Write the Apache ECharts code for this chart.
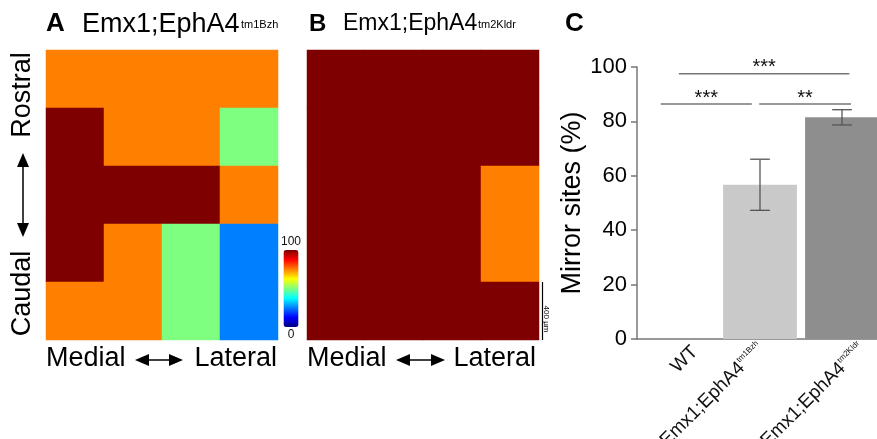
<!DOCTYPE html>
<html>
<head>
<meta charset="utf-8">
<script src="https://cdn.jsdelivr.net/npm/echarts@6/dist/echarts.min.js"></script>
<style>
  html, body { margin: 0; padding: 0; background: #fff; }
  #main { width: 877px; height: 439px; }
</style>
</head>
<body>
<div id="main"></div>
<script>
// heat maps: % of animals with a mirror site, rows rostral -> caudal, cols medial -> lateral
const heatCols = ['1', '2', '3', '4']
const heatRows = ['1', '2', '3', '4', '5']
const heatA = [
  [75, 75, 75, 75],
  [100, 75, 75, 50],
  [100, 100, 100, 75],
  [100, 75, 50, 25],
  [75, 75, 50, 25],
]
const heatB = [
  [100, 100, 100, 100],
  [100, 100, 100, 100],
  [100, 100, 100, 75],
  [100, 100, 100, 75],
  [100, 100, 100, 100],
]
// jet colormap
const JET = ['#00007F', '#0000FF', '#007FFF', '#00FFFF', '#7FFF7F', '#FFFF00', '#FF7F00', '#FF0000', '#7F0000']

// bar chart C
const groupNames = ['WT', 'Emx1;EphA4', 'Emx1;EphA4']
const groupSups = ['', 'tm1Bzh', 'tm2Kldr']
const barValues = [0, 56.7, 81.5]
const barErrors = [0, 9.4, 2.8]
const barColors = ['#ffffff', '#c9c9c9', '#8e8e8e']
// significance brackets (positions in category units)
const sigFrom = [0.01, -0.21, 0.99]
const sigTo = [2.09, 0.9, 2.11]
const sigY = [97.5, 86.4, 86.4]
const sigText = ['***', '***', '**']

// hand placement of the rotated group labels (px from the tick)
const labelDx = [17, 1, 20]
const labelDy = [10, 7, 7]

const FONT = '"Liberation Sans", Arial, Helvetica, sans-serif'
const categories = groupNames.map((n, i) => n + ' ' + groupSups[i])
const toCells = (m) => m.flatMap((row, r) => row.map((v, c) => [c, r, v]))

function arrow(x1, y1, x2, y2) {
  const dx = x2 - x1, dy = y2 - y1
  const len = Math.sqrt(dx * dx + dy * dy)
  const ux = dx / len, uy = dy / len
  const hl = 14, hw = 6
  const head = (px, py, sx, sy) => ({
    type: 'polygon',
    shape: { points: [[px, py], [px - sx * hl - sy * hw, py - sy * hl + sx * hw], [px - sx * hl + sy * hw, py - sy * hl - sx * hw]] },
    style: { fill: '#000' },
  })
  return {
    type: 'group',
    children: [
      { type: 'line', shape: { x1: x1 + ux * 6, y1: y1 + uy * 6, x2: x2 - ux * 6, y2: y2 - uy * 6 }, style: { stroke: '#000', lineWidth: 1.5 } },
      head(x2, y2, ux, uy),
      head(x1, y1, -ux, -uy),
    ],
  }
}

function txt(x, y, text, size, opts) {
  return Object.assign({
    type: 'text', x: x, y: y,
    style: Object.assign({ text: text, fontSize: size, fontFamily: FONT, fill: '#000', verticalAlign: 'top' }, (opts && opts.style) || {}),
  }, (opts && opts.el) || {})
}

const chart = echarts.init(document.getElementById('main'))

const hiddenCat = (data, idx, inverse) => ({
  type: 'category', data: data, gridIndex: idx, inverse: !!inverse,
  axisLine: { show: false }, axisTick: { show: false }, axisLabel: { show: false }, splitLine: { show: false },
})

chart.setOption({
  animation: false,
  grid: [
    { left: 46, top: 50, width: 232, height: 290, outerBoundsMode: 'none' },
    { left: 307, top: 50, width: 232, height: 290, outerBoundsMode: 'none' },
    { left: 637, top: 67, width: 246, height: 272, outerBoundsMode: 'none' },
  ],
  xAxis: [
    hiddenCat(heatCols, 0),
    hiddenCat(heatCols, 1),
    {
      type: 'category', gridIndex: 2, data: categories,
      axisLine: { lineStyle: { color: '#777', width: 1.5 } },
      axisTick: { show: false },
      axisLabel: { show: false },
    },
  ],
  yAxis: [
    hiddenCat(heatRows, 0, true),
    hiddenCat(heatRows, 1, true),
    {
      type: 'value', gridIndex: 2, min: 0, max: 100, interval: 20,
      name: 'Mirror sites (%)', nameLocation: 'middle', nameGap: 45,
      nameTextStyle: { fontSize: 27, fontFamily: FONT, color: '#000' },
      axisLine: { show: true, lineStyle: { color: '#777', width: 1.5 } },
      axisTick: { show: true, length: 6, lineStyle: { color: '#777', width: 1.5 } },
      axisLabel: { fontSize: 22, fontFamily: FONT, color: '#000', margin: 10 },
      splitLine: { show: false },
    },
  ],
  visualMap: {
    type: 'continuous', min: 0, max: 100, seriesIndex: [0, 1],
    calculable: false, orient: 'vertical',
    left: 281, top: 236, itemWidth: 15, itemHeight: 77, padding: 0,
    text: ['100', '0'], textGap: 2,
    textStyle: { fontSize: 12, fontFamily: FONT, color: '#111' },
    inRange: { color: JET },
  },
  series: [
    { type: 'heatmap', xAxisIndex: 0, yAxisIndex: 0, data: toCells(heatA), emphasis: { disabled: true } },
    { type: 'heatmap', xAxisIndex: 1, yAxisIndex: 1, data: toCells(heatB), emphasis: { disabled: true } },
    {
      // 400 um scale bar = one row of panel B
      type: 'custom', xAxisIndex: 1, yAxisIndex: 1, clip: false, silent: true,
      data: [[heatCols.length - 1, heatRows.length - 1]],
      renderItem: function (params, api) {
        const p = api.coord([api.value(0), api.value(1)])
        const s = api.size([1, 1])
        const x = p[0] + s[0] / 2 + 3.5
        return {
          type: 'group',
          children: [
            { type: 'line', shape: { x1: x, y1: p[1] - s[1] / 2, x2: x, y2: p[1] + s[1] / 2 }, style: { stroke: '#000', lineWidth: 1.2 } },
            { type: 'text', x: x + 4, y: p[1] + 8, rotation: -Math.PI / 2, style: { text: '400 µm', fontSize: 8, fontFamily: FONT, fill: '#000', align: 'center', verticalAlign: 'middle' } },
          ],
        }
      },
    },
    {
      type: 'bar', xAxisIndex: 2, yAxisIndex: 2, barCategoryGap: '10%',
      data: barValues.map((v, i) => ({ value: v, itemStyle: { color: barColors[i] } })),
    },
    {
      type: 'custom', xAxisIndex: 2, yAxisIndex: 2, clip: false, silent: true, z: 5,
      data: barValues.map((v, i) => [i, v, barErrors[i]]),
      renderItem: function (params, api) {
        const e = api.value(2)
        if (!e) return
        const i = api.value(0), m = api.value(1)
        const hi = api.coord([i, m + e]), lo = api.coord([i, m - e])
        const hw = api.size([1, 0])[0] * 0.12
        const st = { stroke: '#555', lineWidth: 1.3 }
        return {
          type: 'group',
          children: [
            { type: 'line', shape: { x1: hi[0], y1: hi[1], x2: lo[0], y2: lo[1] }, style: st },
            { type: 'line', shape: { x1: hi[0] - hw, y1: hi[1], x2: hi[0] + hw, y2: hi[1] }, style: st },
            { type: 'line', shape: { x1: lo[0] - hw, y1: lo[1], x2: lo[0] + hw, y2: lo[1] }, style: st },
          ],
        }
      },
    },
    {
      type: 'custom', xAxisIndex: 2, yAxisIndex: 2, clip: false, silent: true, z: 5,
      data: sigY.map((y) => [0, y]),
      renderItem: function (params, api) {
        const k = params.dataIndex
        const base = api.coord([0, api.value(1)])
        const bw = api.size([1, 0])[0]
        const x1 = base[0] + sigFrom[k] * bw, x2 = base[0] + sigTo[k] * bw
        return {
          type: 'group',
          children: [
            { type: 'line', shape: { x1: x1, y1: base[1], x2: x2, y2: base[1] }, style: { stroke: '#777', lineWidth: 1.4 } },
            { type: 'text', x: (x1 + x2) / 2, y: base[1] - 6, style: { text: sigText[k], fontSize: 20, fontFamily: FONT, fill: '#111', align: 'center', verticalAlign: 'middle' } },
          ],
        }
      },
    },
    {
      // rotated group labels under the bars
      type: 'custom', xAxisIndex: 2, yAxisIndex: 2, clip: false, silent: true, z: 5,
      data: categories.map((c, i) => [i, 0]),
      renderItem: function (params, api) {
        const k = params.dataIndex
        const p = api.coord([api.value(0), 0])
        const t = groupSups[k] ? '{m|' + groupNames[k] + '}{s|' + groupSups[k] + '}' : '{m|' + groupNames[k] + '}'
        return {
          type: 'text', x: p[0] + labelDx[k], y: p[1] + labelDy[k], rotation: Math.PI / 4,
          style: {
            text: t, align: 'right', verticalAlign: 'middle',
            rich: {
              m: { fontSize: 19, fontFamily: FONT, fill: '#111' },
              s: { fontSize: 8, fontFamily: FONT, fill: '#111', verticalAlign: 'top' },
            },
          },
        }
      },
    },
  ],
  graphic: [
    txt(46, 11, 'A', 26, { style: { fontWeight: 'bold' } }),
    txt(82, 11, 'Emx1;EphA4', 27),
    txt(241, 19, 'tm1Bzh', 11),
    txt(309, 12, 'B', 24, { style: { fontWeight: 'bold' } }),
    txt(343, 12, 'Emx1;EphA4', 23),
    txt(478, 19, 'tm2Kldr', 11),
    txt(565, 11, 'C', 26, { style: { fontWeight: 'bold' } }),
    txt(22.5, 95, 'Rostral', 27, { style: { align: 'center', verticalAlign: 'middle' }, el: { rotation: Math.PI / 2 } }),
    txt(22.5, 293.5, 'Caudal', 27, { style: { align: 'center', verticalAlign: 'middle' }, el: { rotation: Math.PI / 2 } }),
    arrow(23, 153, 23, 237),
    txt(46, 345, 'Medial', 27),
    arrow(135, 360, 183, 360),
    txt(277, 345, 'Lateral', 27, { style: { align: 'right' } }),
    txt(307, 345, 'Medial', 27),
    arrow(396, 360, 445, 360),
    txt(536, 345, 'Lateral', 27, { style: { align: 'right' } }),
  ],
})
</script>
</body>
</html>
